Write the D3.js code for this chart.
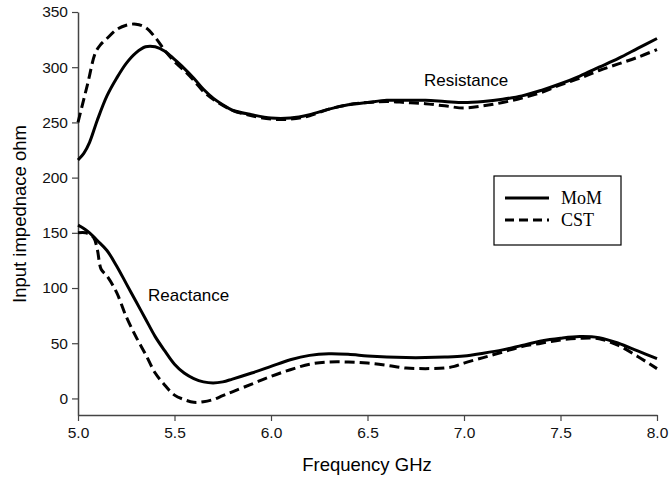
<!DOCTYPE html>
<html>
<head>
<meta charset="utf-8">
<script src="https://cdn.jsdelivr.net/npm/d3@7"></script>
<style>
  html, body { margin: 0; padding: 0; background: #fff; }
  svg { display: block; }
</style>
</head>
<body>
<svg id="chart" width="670" height="478"></svg>
<script>
// ---- data ----
const freq = [5.00,5.03,5.06,5.10,5.15,5.20,5.25,5.30,5.35,5.40,5.45,5.50,5.55,5.60,5.65,5.70,5.75,5.80,5.90,6.00,6.10,6.20,6.30,6.40,6.50,6.60,6.70,6.80,6.90,7.00,7.10,7.20,7.30,7.40,7.50,7.60,7.70,7.80,7.90,8.00];

const momResistance = [216,222,232,252,274,290,303.5,313,318.5,318.5,314.5,307,299,290,280,272,266,261,257,254,254,257,262,266,268,270,270,270,269,268,269,271,274,279,285,292,300,308,317,326];

const cstFreqR = [5.00,5.05,5.09,5.115,5.15,5.20,5.25,5.30,5.35,5.40,5.45,5.50,5.55,5.60,5.65,5.70,5.80,5.90,6.00,6.10,6.20,6.30,6.40,6.50,6.60,6.70,6.80,6.90,7.00,7.10,7.20,7.30,7.40,7.50,7.60,7.70,7.80,7.90,8.00];
const cstResistance = [250,285,313,320,326,334,338,339,336,327,315,305,297,288,278,271,261,256,253,253,256,262,266,268,269,268,267,265,263,265,268,272,277,284,290,297,303,309,316];

const momReactance = [157,154,150,143,134,120,104,88,72,56,43,31,23,18,15,14,15,17.5,23,29,35,39,40.5,40,38.5,37.5,37,37,37.5,38.5,41,44,48,52,54.5,56,55,50,43,36];

const cstFreqX = [5.00,5.04,5.08,5.10,5.12,5.15,5.20,5.25,5.30,5.35,5.40,5.45,5.50,5.55,5.60,5.65,5.70,5.75,5.80,5.90,6.00,6.10,6.20,6.30,6.40,6.50,6.60,6.70,6.80,6.90,6.95,7.00,7.10,7.20,7.30,7.40,7.50,7.60,7.70,7.80,7.90,8.00];
const cstReactance = [150,150,146,135,117,111,96,74,56,40,23,12,3,-1,-3.5,-3,-1,2.5,6,13,20,26,31,33,33,32,30,27.5,27,27.5,29,32,37,42,47,50,53,54.5,54,48,38,27];

const xTicks = [5.0,5.5,6.0,6.5,7.0,7.5,8.0];
const yTicks = [0,50,100,150,200,250,300,350];
const seriesNames = ["MoM","CST"];

// ---- chart ----
const svg = d3.select("#chart");
const x = d3.scaleLinear().domain([5, 8]).range([78, 657]);
const y = d3.scaleLinear().domain([-15, 350]).range([415, 12]);

const axisColor = "#444";
const font = "'Liberation Sans', Arial, sans-serif";

const xAxis = svg.append("g")
  .attr("transform", "translate(0,415)")
  .call(d3.axisBottom(x).tickValues(xTicks).tickFormat(d3.format(".1f")).tickSize(6).tickSizeOuter(0).tickPadding(6));
const yAxis = svg.append("g")
  .attr("transform", "translate(78,0)")
  .call(d3.axisLeft(y).tickValues(yTicks).tickSize(6).tickSizeOuter(0).tickPadding(4));

[xAxis, yAxis].forEach(g => {
  g.select(".domain").attr("stroke", axisColor).attr("stroke-width", 1.5);
  g.selectAll(".tick line").attr("stroke", axisColor).attr("stroke-width", 1.2);
  g.selectAll(".tick text").attr("fill", "#111").style("font-family", font).style("font-size", "15.5px");
});

const line = d3.line().x(d => x(d[0])).y(d => y(d[1])).curve(d3.curveCatmullRom.alpha(0.5));

const curves = [
  {f: freq, v: momResistance, dash: null},
  {f: cstFreqR, v: cstResistance, dash: "10,5"},
  {f: freq, v: momReactance, dash: null},
  {f: cstFreqX, v: cstReactance, dash: "10,5"}
];

curves.forEach(c => {
  svg.append("path")
    .datum(c.f.map((f, i) => [f, c.v[i]]))
    .attr("fill", "none")
    .attr("stroke", "#000")
    .attr("stroke-width", 3)
    .attr("stroke-dasharray", c.dash)
    .attr("d", line);
});

// annotations
svg.append("text").attr("x", 424).attr("y", 86).text("Resistance")
  .style("font-family", font).style("font-size", "17px").attr("fill", "#000");
svg.append("text").attr("x", 148).attr("y", 301).text("Reactance")
  .style("font-family", font).style("font-size", "17px").attr("fill", "#000");

// axis titles
svg.append("text").attr("x", 367).attr("y", 471).attr("text-anchor", "middle")
  .text("Frequency GHz").style("font-family", font).style("font-size", "18.5px").attr("fill", "#000");
svg.append("text").attr("transform", "translate(26,214) rotate(-90)").attr("text-anchor", "middle")
  .text("Input impednace ohm").style("font-family", font).style("font-size", "18.5px").attr("fill", "#000");

// legend
const lg = svg.append("g");
lg.append("rect").attr("x", 494).attr("y", 176).attr("width", 127).attr("height", 69)
  .attr("fill", "#fff").attr("stroke", "#000").attr("stroke-width", 1.2);
const legendY = [198, 220];
seriesNames.forEach((name, i) => {
  lg.append("line").attr("x1", 505).attr("x2", 549).attr("y1", legendY[i]).attr("y2", legendY[i])
    .attr("stroke", "#000").attr("stroke-width", 3)
    .attr("stroke-dasharray", i === 1 ? "9,5" : null);
  lg.append("text").attr("x", 561).attr("y", legendY[i] + 6).text(name)
    .style("font-family", "'Liberation Serif', 'Times New Roman', serif").style("font-size", "18px").attr("fill", "#000");
});
</script>
</body>
</html>
